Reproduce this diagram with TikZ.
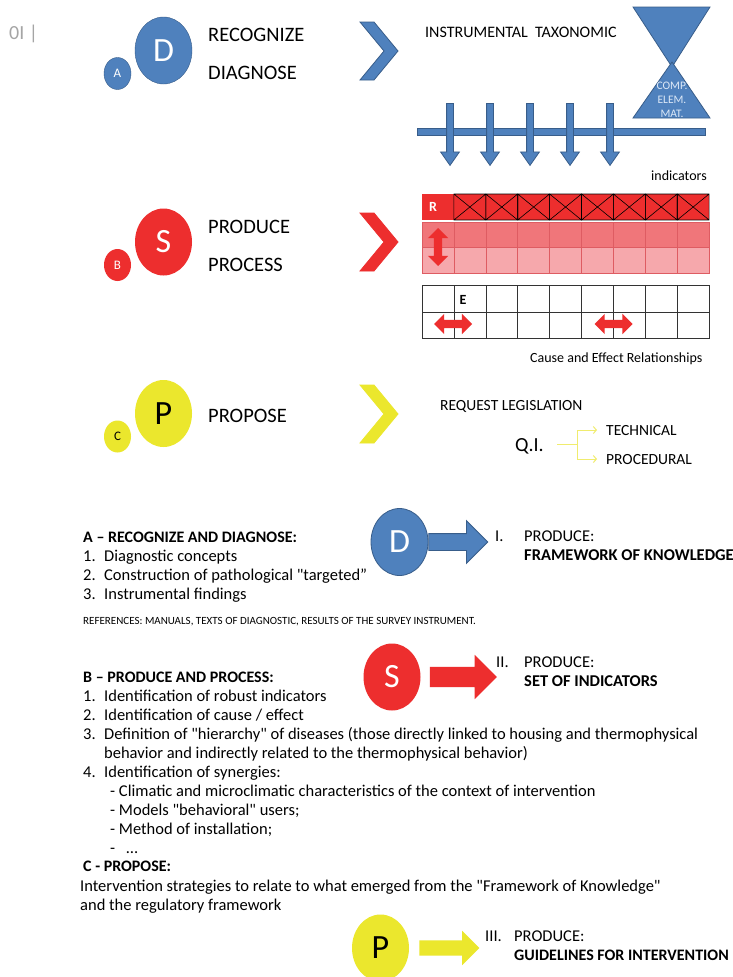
\documentclass[tikz,border=0pt]{standalone}
\usepackage{fontspec}
\setmainfont{Carlito}
\usetikzlibrary{shapes.geometric, shapes.arrows, arrows.meta}

\definecolor{dblue}{RGB}{79,129,189}
\definecolor{dblueline}{RGB}{56,93,138}
\definecolor{hglabel}{RGB}{220,232,247}
\definecolor{sred}{RGB}{237,46,46}
\definecolor{rowmid}{RGB}{240,118,122}
\definecolor{rowlow}{RGB}{246,168,172}
\definecolor{rowline}{RGB}{222,92,98}
\definecolor{pyellow}{RGB}{235,231,45}
\definecolor{pylight}{RGB}{240,236,110}
\definecolor{pagegray}{RGB}{165,165,165}

\newcommand{\fsz}[1]{\fontsize{#1}{#1}\selectfont}
% straight double quote, taken as a glyph so the tex-text mapping leaves it alone
\newcommand{\dq}{\XeTeXglyph\XeTeXcharglyph"22\relax}

\tikzset{
  bigcirc/.style={ellipse, minimum width=57pt, minimum height=67pt, inner sep=0pt, font=\fsz{34}},
  smallcirc/.style={ellipse, minimum width=27pt, minimum height=32pt, inner sep=0pt, font=\fsz{13}},
  title/.style={anchor=base west, inner sep=0pt, font=\fsz{20.5}},
  body/.style={anchor=base west, inner sep=0pt, font=\fsz{16.5}},
  bodybf/.style={anchor=base west, inner sep=0pt, font=\fsz{16}\bfseries},
  small/.style={anchor=base west, inner sep=0pt, font=\fsz{14}},
  bluebody/.style={fill=dblue, draw=dblueline, line width=0.8pt},
  downarrow/.style={single arrow, bluebody, inner xsep=3pt, inner ysep=0pt, minimum height=62pt,
    single arrow head extend=6pt, single arrow tip angle=70, shape border rotate=270, anchor=tail},
  blockarrow/.style={single arrow, inner xsep=0pt, anchor=tail},
  relarrow/.style={double arrow, fill=sred, inner xsep=0pt, inner ysep=4pt, minimum height=38pt,
    double arrow head extend=6pt},
  qibranch/.style={draw=pylight, line width=1pt},
}

\begin{document}
\begin{tikzpicture}[x=1pt, y=-1pt]
  \useasboundingbox (0,0) rectangle (733,977);
  \fill[white] (0,0) rectangle (733,977);

  \node[anchor=base west, inner sep=0pt, font=\fsz{20}, text=pagegray] (pagenum) at (9,39.4) {0I |};

  % letter circles and chevrons
  \foreach \nm/\sm/\yc/\col/\tc/\ln in {D/A/50.5/dblue/white/dblueline, S/B/242/sred/white/none, P/C/413.5/pyellow/black/none} {
    \node[bigcirc, fill=\col, draw=\ln, text=\tc] (big\nm) at (163.5,\yc) {\nm};
    \node[smallcirc, fill=\col, draw=\ln, text=\tc] (small\sm) at (117.5,\yc+23) {\sm};
  }
  \foreach \yc/\col/\ln in {51/dblue/dblueline, 242/sred/sred, 414/pyellow/pyellow}
    \filldraw[fill=\col, draw=\ln, line width=0.8pt] (360,\yc-29) -- (374,\yc-29) -- (398,\yc) -- (374,\yc+29) -- (360,\yc+29) -- (384,\yc) -- cycle;

  \node[title] (recog) at (208,41.6) {RECOGNIZE};
  \node[title] (diag) at (208,79.6) {DIAGNOSE};
  \node[title] (produce) at (208,233.6) {PRODUCE};
  \node[title] (process) at (208,271.6) {PROCESS};
  \node[title] (propose) at (208,422.6) {PROPOSE};

  % taxonomy: hourglass, bar and indicator arrows
  \node[anchor=base west, inner sep=0pt, font=\fsz{16}] (instr) at (425,37) {INSTRUMENTAL\ \ TAXONOMIC};
  \filldraw[bluebody] (633,7) -- (710,7) -- (672,67) -- cycle;
  \filldraw[bluebody] (672,62) -- (710,118) -- (633,118) -- cycle;
  \node[align=center, inner sep=0pt, text=hglabel, font=\fontsize{11.5}{14}\selectfont] (hgtext) at (672,100) {COMP.\\ELEM.\\MAT.};
  \filldraw[bluebody] (417,128) rectangle (705,135);
  \foreach \x in {450,490,530,570,610}
    \node[downarrow] (ind\x) at (\x,103) {};
  \node[small] (indic) at (651,180.5) {indicators};

  % R grid
  \fill[sred] (422,194) rectangle (709,220);
  \foreach \c in {1,...,8}
    \draw[black, line width=0.6pt] (422+\c*31.9,194) rectangle ++(31.9,26)
      (422+\c*31.9,194) -- ++(31.9,26) (422+\c*31.9+31.9,194) -- ++(-31.9,26);
  \fill[rowmid] (422,222) rectangle (709,247);
  \fill[rowlow] (422,247) rectangle (709,273);
  \foreach \c in {1,...,8}
    \draw[rowline, line width=0.6pt] (422+\c*31.9,222) -- ++(0,51);
  \draw[rowline, line width=0.6pt] (422,247) -- (709,247) (422,222) rectangle (709,273);
  \node[inner sep=0pt, font=\fsz{14}\bfseries, text=white] (rlabel) at (433,207) {R};
  \node[relarrow, shape border rotate=90, inner xsep=4pt, inner ysep=0pt] (vrel) at (438,247) {};

  % E grid
  \draw[black!80, line width=0.6pt] (422,285) rectangle (709,338) (422,312) -- (709,312);
  \foreach \c in {1,...,8}
    \draw[black!80, line width=0.6pt] (422+\c*31.9,285) -- ++(0,53);
  \node[inner sep=0pt, font=\fsz{14}\bfseries] (elabel) at (463,300) {E};
  \node[relarrow] (hrel1) at (453,324) {};
  \node[relarrow] (hrel2) at (613.5,324) {};
  \node[small] (cause) at (530,362.5) {Cause and Effect Relationships};

  % legislation
  \node[anchor=base west, inner sep=0pt, font=\fsz{15.5}] (request) at (440,410) {REQUEST LEGISLATION};
  \node[anchor=base west, inner sep=0pt, font=\fsz{20}] (qi) at (515,451.4) {Q.I.};
  \node[anchor=base west, inner sep=0pt, font=\fsz{15.5}] (tech) at (606,435) {TECHNICAL};
  \node[anchor=base west, inner sep=0pt, font=\fsz{15.5}] (proc) at (606,464) {PROCEDURAL};
  \coordinate (qifork) at (577,444);
  \draw[qibranch] ([xshift=13pt]qifork -| qi.east) -- (qifork);
  \draw[qibranch, -{Straight Barb[length=3pt, width=7pt]}] (qifork) |- ([xshift=-9pt]tech.west);
  \draw[qibranch, -{Straight Barb[length=3pt, width=7pt]}] (qifork) |- ([xshift=-9pt]proc.west);

  % A - recognize and diagnose
  \node[bodybf] (headA) at (83,542) {A – RECOGNIZE AND DIAGNOSE:};
  \foreach \n/\yb/\txt in {1/561/Diagnostic concepts, 2/580/Construction of pathological \dq targeted”, 3/599/Instrumental findings} {
    \node[body] (numA\n) at (83,\yb) {\n.};
    \node[body] (itemA\n) at (104,\yb) {\txt};
  }
  \node[anchor=base west, inner sep=0pt, font=\fsz{11}] (refs) at (83,624) {REFERENCES: MANUALS, TEXTS OF DIAGNOSTIC, RESULTS OF THE SURVEY INSTRUMENT.};
  \node[bigcirc, fill=dblue, draw=dblueline, line width=0.8pt, text=white] (outD) at (399.5,542) {D};
  \node[blockarrow, bluebody, inner ysep=8pt, minimum height=59pt, single arrow head extend=13pt] (arrD) at (outD.east) {};
  \node[body] (numI) at (495,541) {I.};
  \node[body] (prodI) at (524,541) {PRODUCE:};
  \node[bodybf, font=\fsz{16.5}\bfseries] (framework) at (524,560) {FRAMEWORK OF KNOWLEDGE};

  % B - produce and process
  \node[bodybf] (headB) at (83,682) {B – PRODUCE AND PROCESS:};
  \foreach \n/\yb/\txt in {1/701/Identification of robust indicators, 2/720/{Identification of cause / effect}, 3/739/Definition of \dq hierarchy\dq\ of diseases (those directly linked to housing and thermophysical, 4/777/Identification of synergies:} {
    \node[body] (numB\n) at (83,\yb) {\n.};
    \node[body] (itemB\n) at (104,\yb) {\txt};
  }
  \node[body] (itemB3b) at (104,758) {behavior and indirectly related to the thermophysical behavior)};
  \foreach \k/\yb/\txt in {1/796/Climatic and microclimatic characteristics of the context of intervention, 2/815/Models \dq behavioral\dq\ users;, 3/834/Method of installation;, 4/853/\ \ …}
    \node[body] (synB\k) at (110,\yb) {- \txt};
  \node[bigcirc, fill=sred, text=white] (outS) at (392,677) {S};
  \node[blockarrow, fill=sred, inner ysep=10pt, minimum height=67pt, single arrow head extend=12pt] (arrS) at ([xshift=9pt]outS.east) {};
  \node[body] (numII) at (496,667) {II.};
  \node[body] (prodII) at (524,667) {PRODUCE:};
  \node[bodybf, font=\fsz{16.5}\bfseries] (setind) at (524,686) {SET OF INDICATORS};

  % C - propose
  \node[bodybf] (headC) at (83,871) {C - PROPOSE:};
  \node[body] (strat1) at (80,891) {Intervention strategies to relate to what emerged from the \dq Framework of Knowledge\dq};
  \node[body] (strat2) at (80,910) {and the regulatory framework};
  \node[bigcirc, fill=pyellow] (outP) at (380.5,948) {P};
  \node[blockarrow, fill=pyellow, inner ysep=7.5pt, minimum height=60pt, single arrow head extend=9.5pt] (arrP) at ([xshift=10pt]outP.east) {};
  \node[body] (numIII) at (485,941) {III.};
  \node[body] (prodIII) at (514,941) {PRODUCE:};
  \node[bodybf] (guide) at (514,960) {GUIDELINES FOR INTERVENTION};
\end{tikzpicture}
\end{document}
